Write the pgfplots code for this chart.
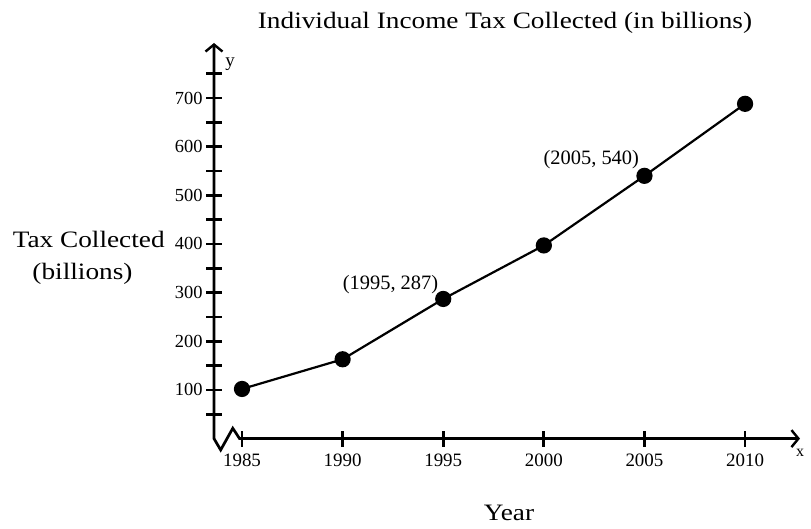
\documentclass[border=0pt]{standalone}
\usepackage{fontspec}
\setmainfont{Liberation Serif}
\newfontfamily\titlefont[FakeStretch=1.16]{Liberation Serif}
\usepackage{pgfplots}
\pgfplotsset{compat=1.18}
\usetikzlibrary{arrows.meta}
\begin{document}
\begin{tikzpicture}
\begin{axis}[
  at={(0,0)}, anchor=origin,
  scale only axis,
  width=586bp, height=395.6bp,
  xmin=1983.608, xmax=2012.73,
  ymin=0, ymax=813,
  axis lines=left,
  axis line style={draw=none},
  clip=false,
  xtick={1985,1990,1995,2000,2005,2010},
  xticklabels={1985,1990,1995,2000,2005,2010},
  ytick={50,100,...,750},
  yticklabels={{},100,{},200,{},300,{},400,{},500,{},600,{},700,{}},
  tick align=center,
  major tick length=16bp,
  tick style={line width=2.8bp, black},
  /pgf/number format/assume math mode=true,
  xticklabel style={font=\fontsize{19}{19}\selectfont, yshift=-3.5bp},
  yticklabel style={font=\fontsize{18.5}{18.5}\selectfont},
]
\addplot[black, line width=2.2bp, mark=*, mark size=7bp, mark options={fill=black}]
  coordinates {(1985,102) (1990,163) (1995,287) (2000,397) (2005,540) (2010,688)};
\draw[line width=2.7bp, line join=miter, {Straight Barb[length=7bp,width=17bp,line width=2.4bp]}-{Straight Barb[length=7bp,width=17bp,line width=2.4bp]}]
  (axis cs:2012.73,0) -- (axis cs:1984.88,0) -- (axis cs:1984.54,21.2) -- (axis cs:1983.94,-23.4) -- (axis cs:1983.608,0) -- (axis cs:1983.608,813);
\node[anchor=base, font=\fontsize{20.5}{20.5}\selectfont, inner sep=0] at (axis cs:1992.38,306.8) {(1995, 287)};
\node[anchor=base, font=\fontsize{20.5}{20.5}\selectfont, inner sep=0] at (axis cs:2002.36,562.3) {(2005, 540)};
\end{axis}
\node[anchor=base, inner sep=0, font=\titlefont\fontsize{23.6}{23.6}\selectfont] at (291bp,410.3bp) {Individual Income Tax Collected (in billions)};
\node[anchor=base, inner sep=0, font=\titlefont\fontsize{23.6}{23.6}\selectfont] at (-125.3bp,190.6bp) {Tax Collected};
\node[anchor=base, inner sep=0, font=\titlefont\fontsize{23.6}{23.6}\selectfont] at (-131.5bp,158.6bp) {(billions)};
\node[anchor=base, inner sep=0, font=\titlefont\fontsize{23.6}{23.6}\selectfont] at (295bp,-82.1bp) {Year};
\node[anchor=base, inner sep=0, font=\fontsize{16}{16}\selectfont] at (586bp,-18.1bp) {x};
\node[anchor=base, inner sep=0, font=\fontsize{19}{19}\selectfont] at (16bp,371.9bp) {y};
\useasboundingbox (-214bp,-90.4bp) rectangle (597bp,438.6bp);
\end{tikzpicture}
\end{document}
